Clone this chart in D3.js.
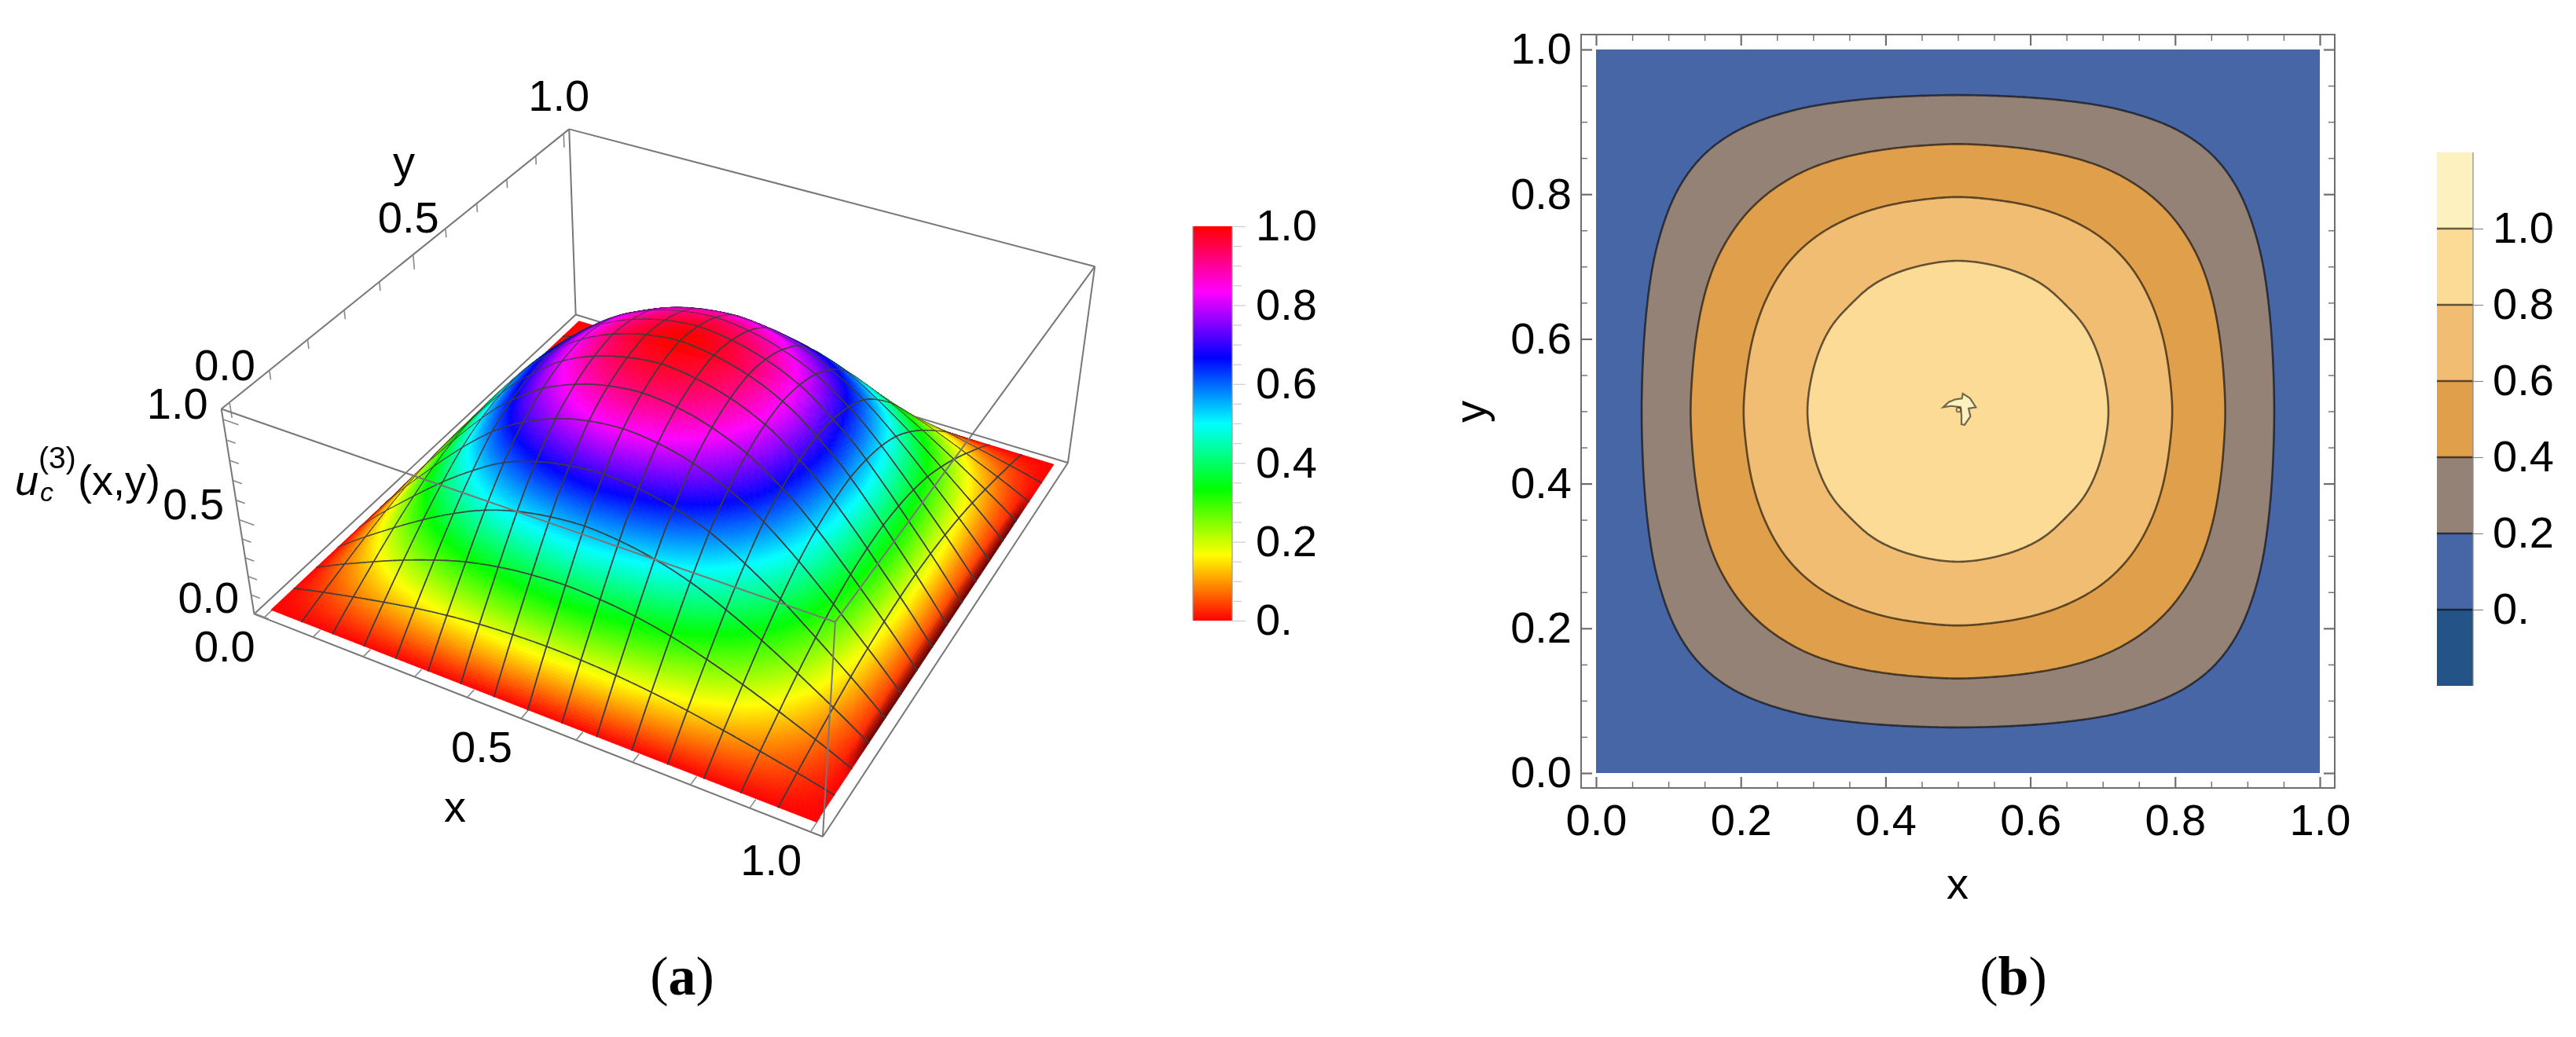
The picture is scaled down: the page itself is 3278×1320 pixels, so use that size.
<!DOCTYPE html>
<html>
<head>
<meta charset="utf-8">
<script src="https://cdn.jsdelivr.net/npm/d3@7/dist/d3.min.js"></script>
<style>
  html, body { margin: 0; background: #fff; overflow: hidden; }
  #chart { position: relative; width: 3278px; height: 1320px; }
  #chart > * { position: absolute; left: 0; top: 0; }
  text { font-family: "Liberation Sans", Arial, sans-serif; fill: #000; }
</style>
</head>
<body>
<div id="chart"></div>
<script>
// u on the lower-left quarter of the unit square, read off at steps of 0.05
// (the picture is symmetric, the other three quarters are mirrored from this)
const uQuarter = [
  [0, 0, 0, 0, 0, 0, 0, 0, 0, 0, 0],
  [0, .026, .05, .073, .094, .114, .13, .143, .152, .158, .16],
  [0, .05, .096, .141, .183, .22, .253, .277, .295, .305, .31],
  [0, .073, .141, .207, .268, .323, .371, .407, .432, .448, .455],
  [0, .094, .183, .268, .348, .419, .481, .528, .561, .581, .59],
  [0, .114, .22, .323, .419, .504, .579, .635, .675, .699, .71],
  [0, .13, .253, .371, .481, .579, .664, .729, .774, .803, .815],
  [0, .143, .277, .407, .528, .635, .729, .795, .85, .882, .895],
  [0, .152, .295, .432, .561, .675, .774, .85, .903, .936, .95],
  [0, .158, .305, .448, .581, .699, .803, .882, .936, .97, .985],
  [0, .16, .31, .455, .59, .71, .815, .895, .95, .985, 1]
];

const contourLevels = [0.2, 0.4, 0.6, 0.8];
const legendLevels = [0, 0.2, 0.4, 0.6, 0.8, 1.0];
const bandEdges = [-0.2, 0, 0.2, 0.4, 0.6, 0.8, 1.0, 1.2];
const bandColors = ["#245487", "#4766a6", "#948276", "#e09f4a", "#f0bd72", "#fcdb96", "#fdf2bf"];
const frameMajor = [0, 0.2, 0.4, 0.6, 0.8, 1.0];
const frameMinor = d3.range(0, 21).map(d => d / 20);

// small closed contour of the 1.0 level at the middle of the contour plot
const peakBlob = [
  [.4796, .5056], [.4875, .5128], [.4965, .5165], [.5056, .5176], [.5067, .5244],
  [.5165, .5182], [.5248, .5056], [.5147, .5038], [.5172, .4929], [.5092, .4813],
  [.5049, .4821], [.5049, .4948], [.5038, .5056], [.4911, .5073]
];
const peakDot = [.5008, .5019];

const hueStops = d3.range(0, 13).map(d => d / 12);
const legendMajor = [0, 0.2, 0.4, 0.6, 0.8, 1.0];
const legendMinor = [.05, .1, .15, .25, .3, .35, .45, .5, .55, .65, .7, .75, .85, .9, .95];
const ticks3d = d3.range(0, 11).map(d => d / 10);
const major3d = [0, 0.5, 1];

// box of the 3d plot in data units and where its corners land on the page
const boxX = [-0.02, 1.02], boxY = [-0.02, 1.02], boxZ = [-0.005, 1.05];
const boxCorners = [
  [0, 0, 0, 323, 781], [1, 0, 0, 1047, 1065], [0, 1, 0, 733, 401], [1, 1, 0, 1359, 589],
  [0, 0, 1, 282, 521], [1, 0, 1, 1063, 792], [0, 1, 1, 724, 164], [1, 1, 1, 1393, 339]
];
// the fitted camera sits a little low on the dome, this corrects the height only
const liftAt = [0, .3, .6, .8, 1];
const liftBy = [0, .02, .045, .04, .016];

const fmt = d => d === 0 ? "0." : d3.format(".1f")(d);
const fmt0 = d3.format(".1f");
const tickFont = 56;

const width = 3278, height = 1320;
const chart = d3.select("#chart");
const svgBack = chart.append("svg").attr("width", width).attr("height", height);
const canvas = chart.append("canvas").attr("width", width).attr("height", height);
const svg = chart.append("svg").attr("width", width).attr("height", height);

// ---- data lookup, smooth between the read values
function gridAt(i, j) {
  // odd across the edges of the square, mirrored across the middle
  const mi = Math.abs(i), mj = Math.abs(j);
  const sign = ((i < 0 || i > 20) ? -1 : 1) * ((j < 0 || j > 20) ? -1 : 1);
  const fi = mi > 20 ? 40 - mi : mi, fj = mj > 20 ? 40 - mj : mj;
  return sign * uQuarter[Math.min(fi, 20 - fi)][Math.min(fj, 20 - fj)];
}
function catmull(p0, p1, p2, p3, t) {
  return 0.5 * (2 * p1 + (p2 - p0) * t + (2 * p0 - 5 * p1 + 4 * p2 - p3) * t * t + (3 * p1 - p0 - 3 * p2 + p3) * t * t * t);
}
function u(x, y) {
  const gx = Math.min(x * 20, 19.9999), gy = Math.min(y * 20, 19.9999);
  const i = Math.floor(gx), j = Math.floor(gy);
  const col = [];
  for (let a = -1; a <= 2; a++) {
    col.push(catmull(gridAt(i + a, j - 1), gridAt(i + a, j), gridAt(i + a, j + 1), gridAt(i + a, j + 2), gy - j));
  }
  return catmull(col[0], col[1], col[2], col[3], gx - i);
}

// ---- panel (a): camera fitted to the box corners
function solve(A, b) {
  const n = b.length;
  for (let c = 0; c < n; c++) {
    let piv = c;
    for (let r = c + 1; r < n; r++) if (Math.abs(A[r][c]) > Math.abs(A[piv][c])) piv = r;
    [A[c], A[piv]] = [A[piv], A[c]];
    [b[c], b[piv]] = [b[piv], b[c]];
    for (let r = c + 1; r < n; r++) {
      const f = A[r][c] / A[c][c];
      for (let k = c; k < n; k++) A[r][k] -= f * A[c][k];
      b[r] -= f * b[c];
    }
  }
  const x = new Array(n).fill(0);
  for (let r = n - 1; r >= 0; r--) {
    let s = b[r];
    for (let k = r + 1; k < n; k++) s -= A[r][k] * x[k];
    x[r] = s / A[r][r];
  }
  return x;
}
function fitCamera() {
  const rows = [], rhs = [];
  boxCorners.forEach(([cx, cy, cz, px, py]) => {
    const X = boxX[cx], Y = boxY[cy], Z = boxZ[cz], a = px / 1000, b = py / 1000;
    rows.push([X, Y, Z, 1, 0, 0, 0, 0, -a * X, -a * Y, -a * Z]); rhs.push(a);
    rows.push([0, 0, 0, 0, X, Y, Z, 1, -b * X, -b * Y, -b * Z]); rhs.push(b);
  });
  const n = 11;
  const AtA = d3.range(n).map(i => d3.range(n).map(j => d3.sum(rows, r => r[i] * r[j])));
  const Atb = d3.range(n).map(i => d3.sum(rows, (r, k) => r[i] * rhs[k]));
  return solve(AtA, Atb);
}
const cam = fitCamera();
function depth(x, y, z) { return cam[8] * x + cam[9] * y + cam[10] * z + 1; }
function project(x, y, z) {
  const w = depth(x, y, z);
  return [1000 * (cam[0] * x + cam[1] * y + cam[2] * z + cam[3]) / w,
          1000 * (cam[4] * x + cam[5] * y + cam[6] * z + cam[7]) / w];
}

const panelA = svg.append("g").attr("class", "panel-a");
const line3d = d3.line();

function edge(g, a, b, color, w) {
  g.append("path").attr("d", line3d([project(...a), project(...b)]))
    .attr("fill", "none").attr("stroke", color).attr("stroke-width", w);
}

const [x0, x1] = boxX, [y0, y1] = boxY, [z0, z1] = boxZ;
const boxBack = svgBack.append("g");
[
  [[x0, y0, z0], [x1, y0, z0]], [[x1, y0, z0], [x1, y1, z0]], [[x1, y1, z0], [x0, y1, z0]], [[x0, y1, z0], [x0, y0, z0]],
  [[x0, y0, z0], [x0, y0, z1]], [[x0, y1, z0], [x0, y1, z1]], [[x1, y1, z0], [x1, y1, z1]],
  [[x0, y0, z1], [x0, y1, z1]], [[x0, y1, z1], [x1, y1, z1]]
].forEach(([a, b]) => edge(boxBack, a, b, "#777", 2));

// ticks on the three labelled edges
ticks3d.forEach(t => {
  const isMajor = major3d.includes(t);
  edge(boxBack, [t, y0, z0], [t, y0 + (isMajor ? .034 : .02), z0], "#888", 1.6);
  edge(boxBack, [x0, t, z1], [x0, t, z1 - (isMajor ? .075 : .045)], "#888", 1.6);
  edge(boxBack, [x0, y0, t], [x0 + (isMajor ? .03 : .018), y0, t], "#888", 1.6);
});

// surface: fine quads and the mesh segments, back to front
const N = 320, meshEvery = N / 16;
const lift = d3.scaleLinear().domain(liftAt).range(liftBy).clamp(true);
const surf = d3.range(N + 1).map(i => d3.range(N + 1).map(j => {
  const x = i / N, y = j / N, v = Math.max(0, u(x, y)), z = v + lift(v);
  return { x, y, v, z, p: project(x, y, z), q: project(x, y, 0), w: depth(x, y, z) };
}));
function polyArea(pts) { return Math.abs(d3.polygonArea(pts)); }
const items = [];
const quadDepth = (i, j) => (surf[i][j].w + surf[i + 1][j].w + surf[i][j + 1].w + surf[i + 1][j + 1].w) / 4;
for (let i = 0; i < N; i++) {
  for (let j = 0; j < N; j++) {
    const c = [surf[i][j], surf[i + 1][j], surf[i + 1][j + 1], surf[i][j + 1]];
    const v = d3.mean(c, d => d.v);
    // grazing parts go dark, and so does the thin steep strip along x = 1
    const r = polyArea(c.map(d => d.p)) / polyArea(c.map(d => d.q));
    let shade = Math.min(1, 0.45 + r / 0.5);
    const cx = (i + 0.5) / N, slope = (c[0].v - c[1].v) * N;
    if (cx > 0.985 && slope > 1) shade *= 1 - 0.65 * Math.min(1, (cx - 0.985) / 0.015) * Math.min(1, (slope - 1) / 0.8);
    items.push({ w: quadDepth(i, j), pts: c.map(d => d.p), color: d3.hsl(v * 360, 1, 0.5 * shade).formatHex() });
  }
}
// a mesh segment goes right after the nearer of the two quads it borders
for (let k = meshEvery; k < N; k += meshEvery) {
  for (let m = 0; m < N; m++) {
    items.push({ w: Math.min(quadDepth(k - 1, m), quadDepth(k, m)) - 1e-7, pts: [surf[k][m].p, surf[k][m + 1].p], mesh: true });
    items.push({ w: Math.min(quadDepth(m, k - 1), quadDepth(m, k)) - 1e-7, pts: [surf[m][k].p, surf[m + 1][k].p], mesh: true });
  }
}
items.sort((a, b) => d3.descending(a.w, b.w));
const ctx = canvas.node().getContext("2d");
const ctxLine = d3.line().context(ctx);
ctx.lineCap = "round";
items.forEach(d => {
  ctx.beginPath();
  ctxLine(d.pts);
  if (d.mesh) {
    ctx.strokeStyle = "#3d3d3d"; ctx.lineWidth = 1.8;
  } else {
    ctx.closePath();
    ctx.fillStyle = d.color; ctx.fill();
    ctx.strokeStyle = d.color; ctx.lineWidth = 0.7;
  }
  ctx.stroke();
});

const boxFront = panelA.append("g");
[
  [[x0, y0, z1], [x1, y0, z1]], [[x1, y0, z1], [x1, y1, z1]], [[x1, y0, z1], [x1, y0, z0]]
].forEach(([a, b]) => edge(boxFront, a, b, "#777", 2));

// 3d tick labels
const label3d = (p, dx, dy, txt) => panelA.append("text")
  .attr("x", p[0] + dx).attr("y", p[1] + dy)
  .attr("text-anchor", "middle").attr("dominant-baseline", "central")
  .attr("font-size", tickFont).text(txt);
major3d.forEach(t => {
  label3d(project(t, y0, z0), -50, 36, fmt0(t));
  label3d(project(x0, t, z1), -6, -48, fmt0(t));
  label3d(project(x0, y0, t), -58, -20, fmt0(t));
});
panelA.append("text").attr("x", 579).attr("y", 1026).attr("text-anchor", "middle")
  .attr("dominant-baseline", "central").attr("font-size", tickFont).text("x");
panelA.append("text").attr("x", 514).attr("y", 205).attr("text-anchor", "middle")
  .attr("dominant-baseline", "central").attr("font-size", tickFont).text("y");

// z axis title, built from pieces
const zTitle = panelA.append("g");
zTitle.append("text").attr("x", 19).attr("y", 630).attr("font-size", 54).attr("font-style", "italic").text("u");
zTitle.append("text").attr("x", 51).attr("y", 638).attr("font-size", 34).attr("font-style", "italic").text("c");
zTitle.append("text").attr("x", 49).attr("y", 596).attr("font-size", 39).text("(3)");
zTitle.append("text").attr("x", 99).attr("y", 630).attr("font-size", 54).text("(x,y)");

// hue legend
const legendA = svg.append("g").attr("class", "legend-a");
const defs = svg.append("defs");
const grad = defs.append("linearGradient").attr("id", "hue-bar")
  .attr("x1", 0).attr("x2", 0).attr("y1", 1).attr("y2", 0);
grad.selectAll("stop").data(hueStops).join("stop")
  .attr("offset", d => d).attr("stop-color", d => d3.hsl(d * 360, 1, 0.5).formatHex());
const legendAY = d3.scaleLinear().domain([0, 1]).range([790, 288]);
const legendAX = 1568;
legendA.append("rect").attr("x", 1518).attr("y", legendAY(1)).attr("width", legendAX - 1518)
  .attr("height", legendAY(0) - legendAY(1)).attr("fill", "url(#hue-bar)");
legendA.append("line").attr("x1", legendAX).attr("x2", legendAX).attr("y1", legendAY(1)).attr("y2", legendAY(0)).attr("stroke", "#999").attr("stroke-width", 1.2);
legendA.append("line").attr("x1", 1518).attr("x2", 1518).attr("y1", legendAY(1)).attr("y2", legendAY(0)).attr("stroke", "#999").attr("stroke-width", 1.2);
const axLegendMinor = d3.axisRight(legendAY).tickValues(legendMinor).tickSize(12).tickFormat("");
const axLegendMajor = d3.axisRight(legendAY).tickValues(legendMajor).tickSize(17).tickPadding(13).tickFormat(fmt);
[axLegendMinor, axLegendMajor].forEach(ax => {
  const g = legendA.append("g").attr("transform", `translate(${legendAX},0)`).call(ax);
  g.select(".domain").remove();
  g.selectAll("line").attr("stroke", "#ccc").attr("stroke-width", 1.2);
  g.selectAll("text").attr("font-size", tickFont).attr("font-family", null).attr("fill", "#000");
});

// ---- panel (b): contour plot
const panelB = svg.append("g").attr("class", "panel-b");
const xB = d3.scaleLinear().domain([0, 1]).range([2031, 2952]);
const yB = d3.scaleLinear().domain([0, 1]).range([984, 63]);
const frame = { left: 2012, right: 2971, top: 44, bottom: 1003 };

panelB.append("rect").attr("x", xB(0)).attr("y", yB(1)).attr("width", xB(1) - xB(0))
  .attr("height", yB(0) - yB(1)).attr("fill", bandColors[1]);

const nc = 320;
const values = new Array((nc + 1) * (nc + 1));
for (let j = 0; j <= nc; j++) {
  for (let i = 0; i <= nc; i++) values[j * (nc + 1) + i] = u(i / nc, j / nc);
}
const contourPath = d3.geoPath(d3.geoTransform({
  point(px, py) { this.stream.point(xB((px - 0.5) / nc), yB((py - 0.5) / nc)); }
}));
const contours = d3.contours().size([nc + 1, nc + 1]).thresholds(contourLevels)(values);
panelB.append("g").selectAll("path").data(contours).join("path")
  .attr("d", contourPath)
  .attr("fill", (d, i) => bandColors[i + 2])
  .attr("stroke", "#000").attr("stroke-opacity", 0.6).attr("stroke-width", 2.6);

const blobLine = d3.line().x(d => xB(d[0])).y(d => yB(d[1])).curve(d3.curveLinearClosed);
panelB.append("path").datum(peakBlob).attr("d", blobLine)
  .attr("fill", bandColors[6]).attr("stroke", "#000").attr("stroke-opacity", 0.55).attr("stroke-width", 2.2);
panelB.append("circle").attr("cx", xB(peakDot[0])).attr("cy", yB(peakDot[1])).attr("r", 2.8)
  .attr("fill", bandColors[5]).attr("stroke", "#000").attr("stroke-opacity", 0.55).attr("stroke-width", 1.6);

panelB.append("rect").attr("x", frame.left).attr("y", frame.top)
  .attr("width", frame.right - frame.left).attr("height", frame.bottom - frame.top)
  .attr("fill", "none").attr("stroke", "#6e6e6e").attr("stroke-width", 2);

function frameAxis(axisFn, scale, tx, ty, labelled, padding) {
  const minor = axisFn(scale).tickValues(frameMinor.filter(d => !frameMajor.some(m => Math.abs(m - d) < 1e-9))).tickSize(-8).tickFormat("");
  const major = axisFn(scale).tickValues(frameMajor).tickSize(-14).tickPadding(padding).tickFormat(labelled ? fmt0 : "");
  [minor, major].forEach((ax, k) => {
    const g = panelB.append("g").attr("transform", `translate(${tx},${ty})`).call(ax);
    g.select(".domain").remove();
    g.selectAll("line").attr("stroke", "#6e6e6e").attr("stroke-width", k ? 2.2 : 1.4);
    g.selectAll("text").attr("font-size", tickFont).attr("font-family", null).attr("fill", "#000");
  });
}
frameAxis(d3.axisBottom, xB, 0, frame.bottom, true, 20);
frameAxis(d3.axisTop, xB, 0, frame.top, false, 3);
frameAxis(d3.axisLeft, yB, frame.left, 0, true, 12);
frameAxis(d3.axisRight, yB, frame.right, 0, false, 3);

panelB.append("text").attr("x", 2491).attr("y", 1124).attr("text-anchor", "middle")
  .attr("dominant-baseline", "central").attr("font-size", tickFont).text("x");
panelB.append("text").attr("transform", "translate(1870,524) rotate(-90)").attr("text-anchor", "middle")
  .attr("dominant-baseline", "central").attr("font-size", tickFont).text("y");

// banded legend
const legendB = svg.append("g").attr("class", "legend-b");
const legendBY = d3.scaleLinear().domain([-0.2, 1.2]).range([873, 194]);
const legendBX = [3101, 3147];
legendB.selectAll("rect").data(bandColors).join("rect")
  .attr("x", legendBX[0]).attr("width", legendBX[1] - legendBX[0])
  .attr("y", (d, i) => legendBY(bandEdges[i + 1]))
  .attr("height", (d, i) => legendBY(bandEdges[i]) - legendBY(bandEdges[i + 1]))
  .attr("fill", d => d);
legendB.selectAll("line.level").data(legendLevels).join("line").attr("class", "level")
  .attr("x1", legendBX[0]).attr("x2", legendBX[1])
  .attr("y1", d => legendBY(d)).attr("y2", d => legendBY(d))
  .attr("stroke", "#000").attr("stroke-opacity", 0.6).attr("stroke-width", 2.6);
legendB.append("line").attr("x1", legendBX[1]).attr("x2", legendBX[1])
  .attr("y1", legendBY(1.2)).attr("y2", legendBY(-0.2)).attr("stroke", "#888").attr("stroke-width", 1.2);
const axBand = legendB.append("g").attr("transform", `translate(${legendBX[1]},0)`)
  .call(d3.axisRight(legendBY).tickValues(legendLevels).tickSize(13).tickPadding(12).tickFormat(fmt));
axBand.select(".domain").remove();
axBand.selectAll("line").attr("stroke", "#888").attr("stroke-width", 1.2);
axBand.selectAll("text").attr("font-size", tickFont).attr("font-family", null).attr("fill", "#000");

// captions
const caption = (cx, letter) => {
  const t = svg.append("text").attr("x", cx).attr("y", 1266).attr("text-anchor", "middle")
    .attr("font-size", 70).style("font-family", "'Liberation Serif', serif");
  t.append("tspan").text("(");
  t.append("tspan").attr("font-weight", "bold").text(letter);
  t.append("tspan").text(")");
};
caption(868, "a");
caption(2562, "b");
</script>
</body>
</html>
